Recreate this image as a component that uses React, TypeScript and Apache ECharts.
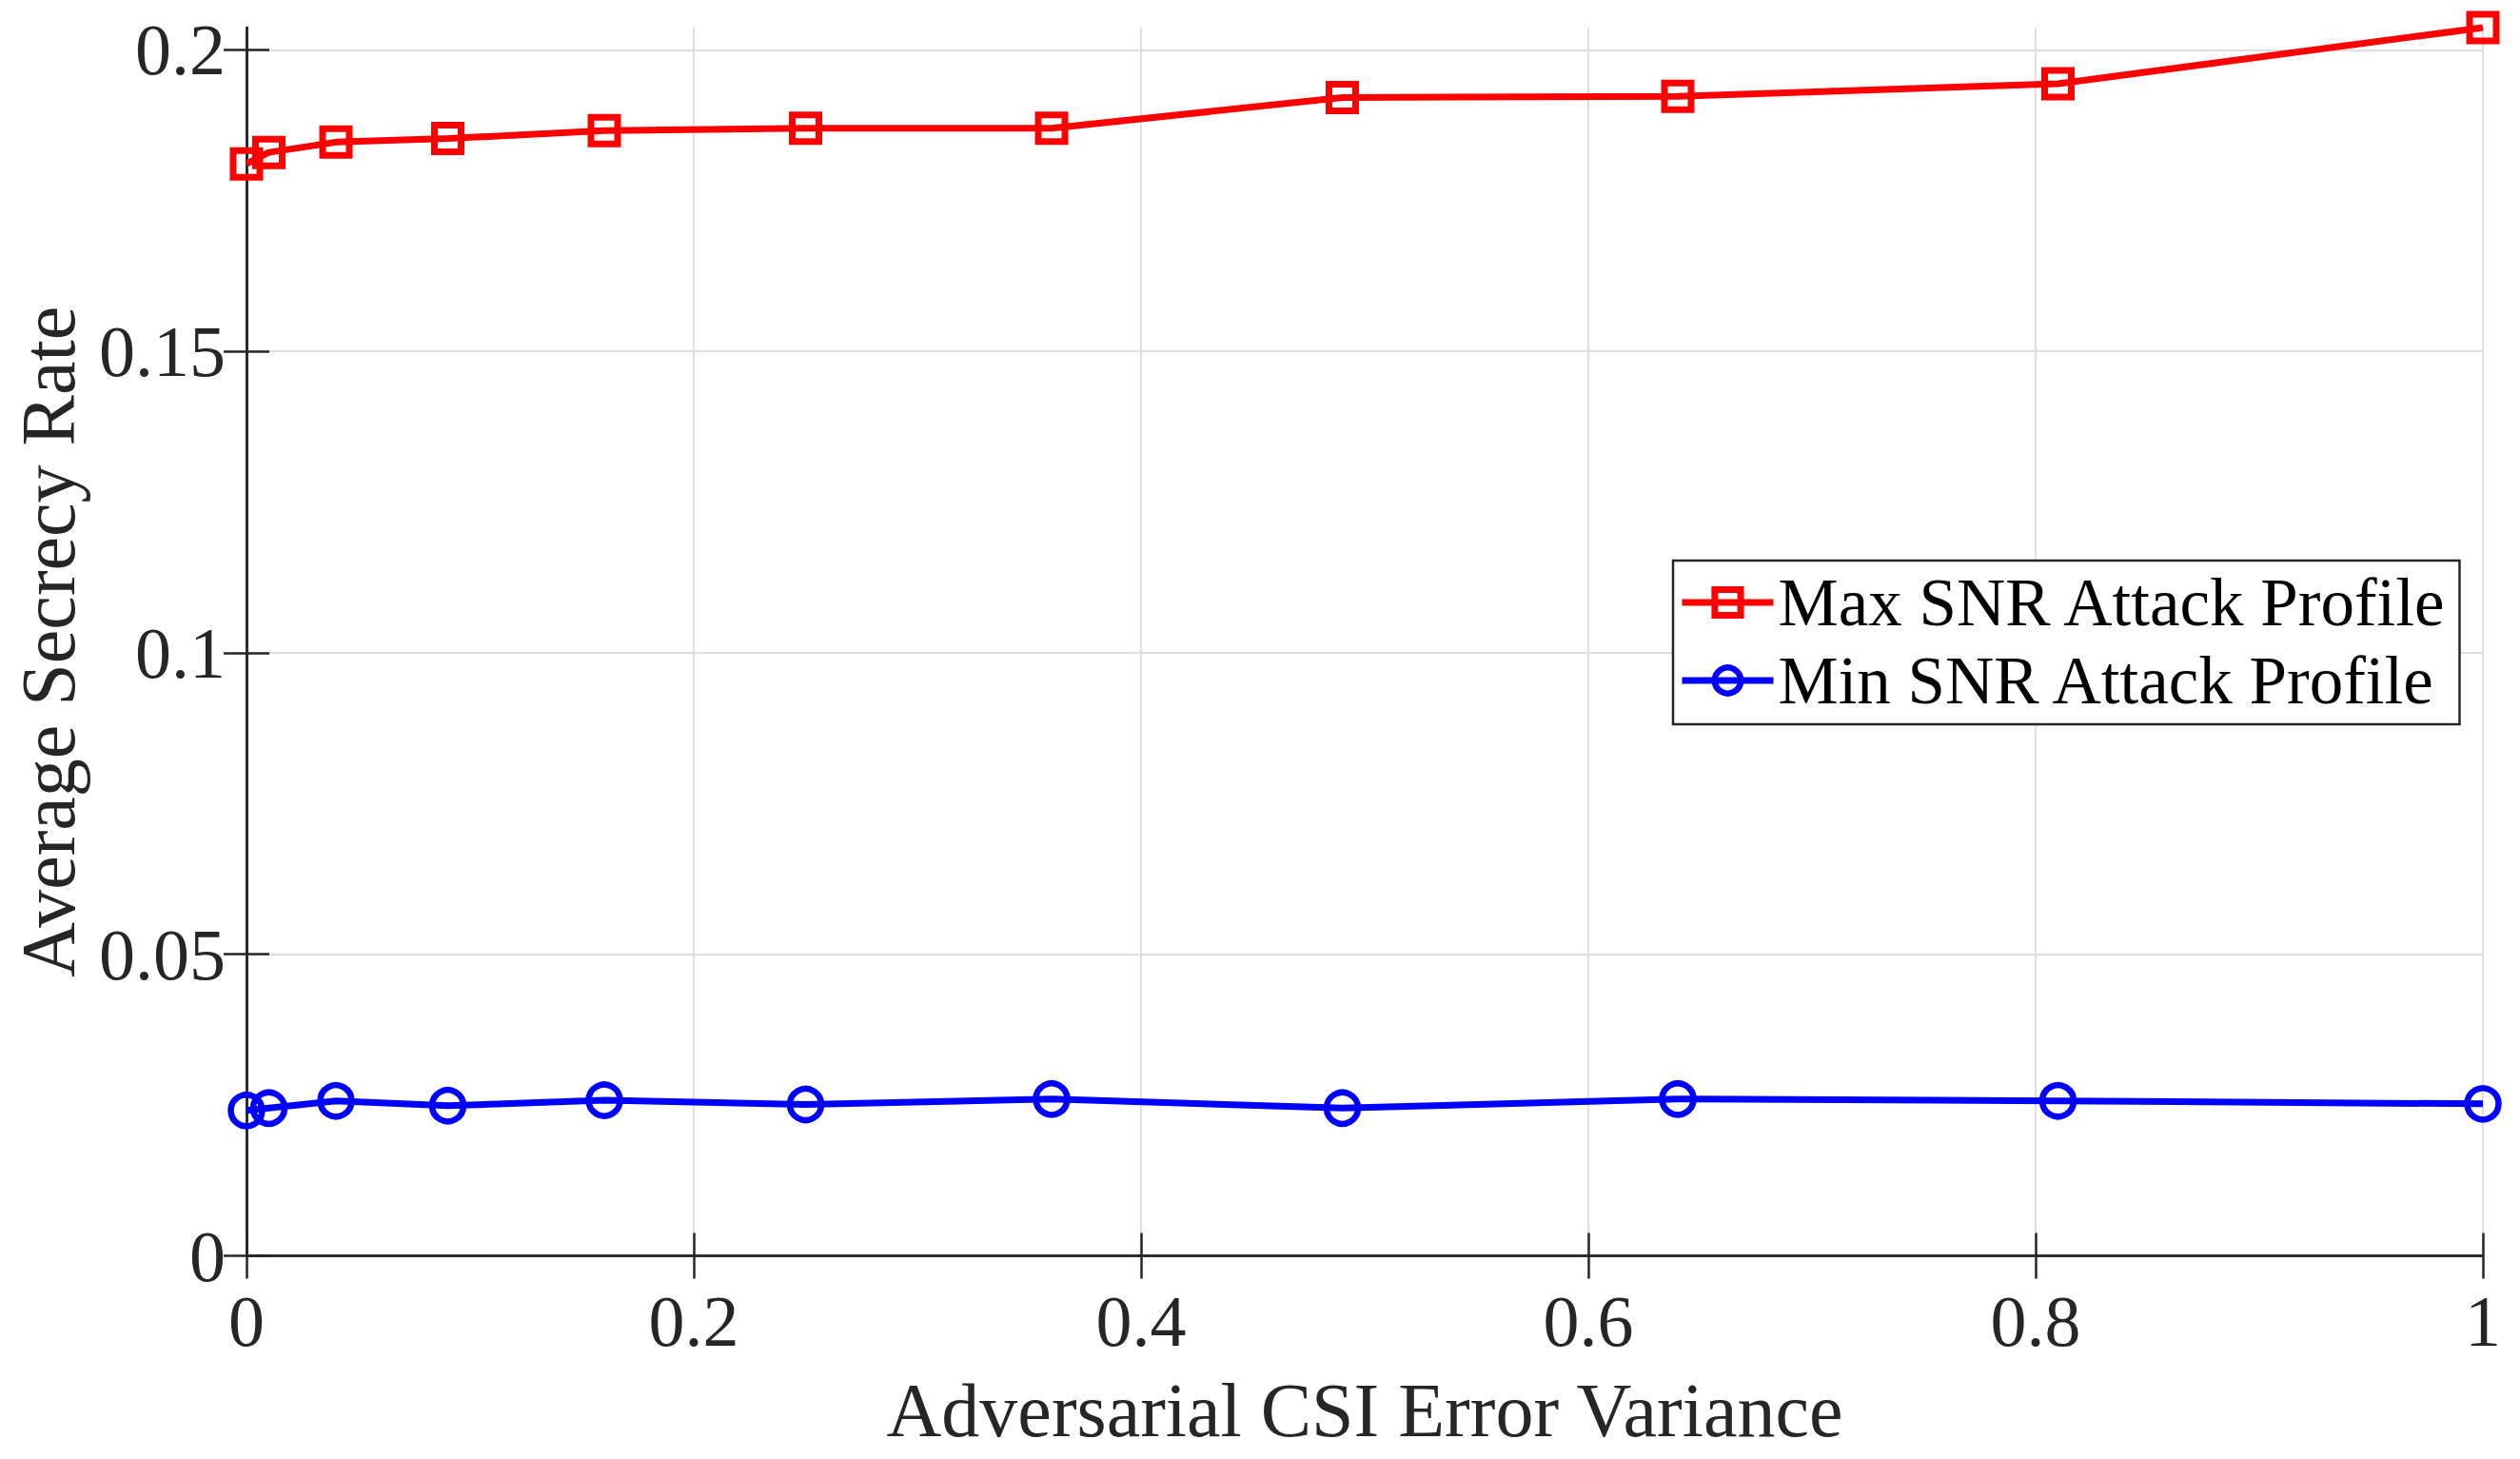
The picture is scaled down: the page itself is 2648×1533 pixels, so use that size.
import React, { useEffect, useRef } from "react";
import * as echarts from "echarts";

const xValues = [0, 0.01, 0.04, 0.09, 0.16, 0.25, 0.36, 0.49, 0.64, 0.81, 1];
const maxSnr = [0.1811, 0.183, 0.1847, 0.1853, 0.1866, 0.187, 0.187, 0.1921, 0.1923, 0.1944, 0.2037];
const minSnr = [0.0241, 0.0245, 0.0257, 0.0249, 0.0258, 0.0251, 0.026, 0.0245, 0.026, 0.0257, 0.0252];
const seriesNames = ["Max SNR Attack Profile", "Min SNR Attack Profile"];
const seriesColors = ["#ff0000", "#0000ff"];
const xTicks = [0, 0.2, 0.4, 0.6, 0.8, 1];
const yTicks = [0, 0.05, 0.1, 0.15, 0.2];
const xTitle = "Adversarial CSI Error Variance";
const yTitle = "Average Secrecy Rate";

const FONT = "Liberation Serif";
const AXIS_COLOR = "#262626";

export default function App() {
  const ref = useRef<HTMLDivElement>(null);
  useEffect(() => {
    document.body.style.margin = "0";
    const chart = echarts.init(ref.current!, null, { renderer: "svg" });
    const fmt = (v: number) => String(Number(v.toFixed(4)));
    const baseAxisLine = { show: true, lineStyle: { color: AXIS_COLOR, width: 2.5 } };
    const tick = { show: true, inside: true, length: 24, lineStyle: { color: AXIS_COLOR, width: 2.5 } };
    const split = { show: true, lineStyle: { color: "#dfdfdf", width: 2 } };
    const yMax = Math.max(...maxSnr);
    const LINE_W = 7;
    const markerStyles = [
      { symbol: "rect", symbolSize: 28, borderWidth: 7 },
      { symbol: "circle", symbolSize: 33, borderWidth: 6.5 },
    ];
    chart.setOption({
      animation: false,
      backgroundColor: "#ffffff",
      grid: { left: 259, right: 39, top: 29, bottom: 213.5, containLabel: false },
      legend: {
        show: true,
        orient: "vertical",
        left: 1758,
        top: 589,
        data: seriesNames.map((name, i) => ({
          name,
          itemStyle: { color: "none", borderColor: seriesColors[i], borderWidth: markerStyles[i].borderWidth },
          lineStyle: { color: seriesColors[i], width: LINE_W },
        })),
        backgroundColor: "#ffffff",
        borderColor: AXIS_COLOR,
        borderWidth: 2.5,
        borderRadius: 0,
        padding: [8, 12, 10, 6],
        itemGap: 10,
        itemWidth: 96,
        itemHeight: 34,
        textStyle: { fontFamily: FONT, fontSize: 71, color: "#000000", lineHeight: 72 },
      },
      xAxis: [
        {
          type: "value",
          min: 0,
          max: 1,
          interval: 0.2,
          position: "bottom",
          name: xTitle,
          nameLocation: "middle",
          nameGap: 122,
          nameTextStyle: { fontFamily: FONT, fontSize: 80, color: AXIS_COLOR },
          axisLine: baseAxisLine,
          axisTick: { ...tick, customValues: xTicks },
          splitLine: split,
          axisLabel: {
            show: true,
            customValues: xTicks,
            margin: 30,
            fontFamily: FONT,
            fontSize: 76,
            color: AXIS_COLOR,
            formatter: fmt,
          },
        },
        {
          type: "value",
          min: 0,
          max: 1,
          interval: 0.2,
          position: "top",
          axisLine: baseAxisLine,
          axisTick: { ...tick, customValues: xTicks },
          splitLine: { show: false },
          axisLabel: { show: false },
        },
      ],
      yAxis: [
        {
          type: "value",
          min: 0,
          max: yMax,
          interval: 0.05,
          position: "left",
          name: yTitle,
          nameLocation: "middle",
          nameRotate: 90,
          nameGap: 168,
          nameTextStyle: { fontFamily: FONT, fontSize: 80, color: AXIS_COLOR },
          axisLine: baseAxisLine,
          axisTick: { ...tick, customValues: yTicks },
          splitLine: split,
          axisLabel: {
            show: true,
            customValues: yTicks,
            margin: 22,
            fontFamily: FONT,
            fontSize: 76,
            color: AXIS_COLOR,
            formatter: fmt,
          },
        },
        {
          type: "value",
          min: 0,
          max: yMax,
          interval: 0.05,
          position: "right",
          axisLine: baseAxisLine,
          axisTick: { ...tick, customValues: yTicks },
          splitLine: { show: false },
          axisLabel: { show: false },
        },
      ],
      series: [maxSnr, minSnr].map((vals, i) => ({
        name: seriesNames[i],
        type: "line",
        xAxisIndex: 0,
        yAxisIndex: 0,
        data: xValues.map((x, j) => [x, vals[j]]),
        clip: false,
        symbol: markerStyles[i].symbol,
        symbolSize: markerStyles[i].symbolSize,
        lineStyle: { color: seriesColors[i], width: LINE_W },
        itemStyle: { color: "none", borderColor: seriesColors[i], borderWidth: markerStyles[i].borderWidth },
        z: 3,
      })),
    });
    return () => chart.dispose();
  }, []);
  return (
    <div
      ref={ref}
      style={{ position: "absolute", left: 0, top: 0, width: 2648, height: 1533 }}
    />
  );
}
